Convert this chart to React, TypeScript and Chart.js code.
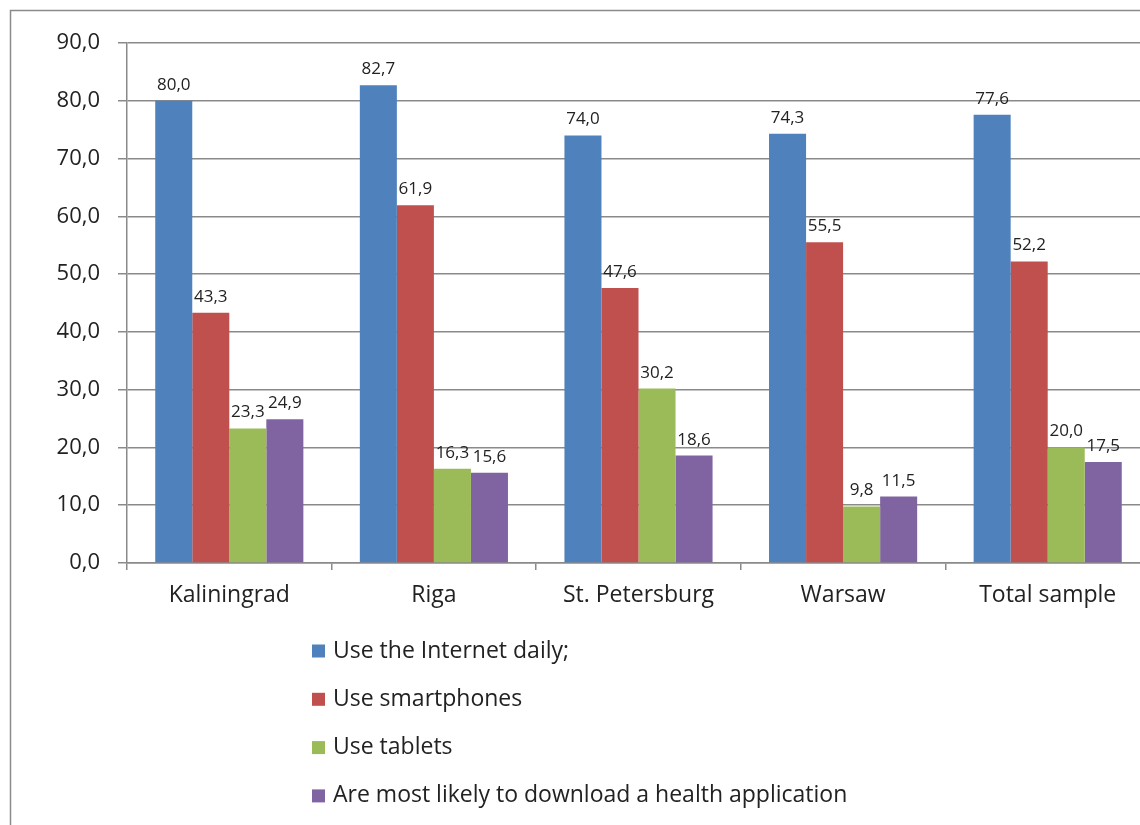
import React, { useEffect, useRef } from "react";
import { Chart, registerables } from "chart.js";

Chart.register(...registerables);

const categories = ["Kaliningrad", "Riga", "St. Petersburg", "Warsaw", "Total sample"];
const seriesNames = [
  "Use the Internet daily;",
  "Use smartphones",
  "Use tablets",
  "Are most likely to download a health application",
];
const internetDaily = [80.0, 82.7, 74.0, 74.3, 77.6];
const smartphones = [43.3, 61.9, 47.6, 55.5, 52.2];
const tablets = [23.3, 16.3, 30.2, 9.8, 20.0];
const healthApp = [24.9, 15.6, 18.6, 11.5, 17.5];
const seriesColors = ["#4f81bd", "#c0504d", "#9bbb59", "#8064a2"];
const yMin = 0;
const yMax = 90;
const yStep = 10;

const FONT = "'Open Sans', 'Noto Sans', sans-serif";

const fmt = (v: number) => v.toFixed(1).replace(".", ",");

export default function App() {
  const ref = useRef<HTMLCanvasElement>(null);
  useEffect(() => {
    if (!ref.current) return;
    const borderPlugin = {
      id: "frame",
      beforeDraw(chart: any) {
        const ctx = chart.ctx;
        ctx.save();
        ctx.strokeStyle = "#8a8a8a";
        ctx.lineWidth = 1.5;
        ctx.beginPath();
        ctx.moveTo(10.5, chart.height);
        ctx.lineTo(10.5, 10.5);
        ctx.lineTo(chart.width, 10.5);
        ctx.stroke();
        ctx.restore();
      },
    };
    const labelPlugin = {
      id: "valueLabels",
      afterDatasetsDraw(chart: any) {
        const ctx = chart.ctx;
        ctx.save();
        ctx.font = `17px ${FONT}`;
        ctx.fillStyle = "#222";
        ctx.textAlign = "center";
        ctx.textBaseline = "alphabetic";
        chart.data.datasets.forEach((ds: any, i: number) => {
          const meta = chart.getDatasetMeta(i);
          meta.data.forEach((bar: any, j: number) => {
            ctx.fillText(fmt(ds.data[j]), bar.x, bar.y - 11);
          });
        });
        ctx.restore();
      },
    };
    const legendPlugin = {
      id: "vertLegend",
      afterDraw(chart: any) {
        const ctx = chart.ctx;
        ctx.save();
        ctx.font = `23px ${FONT}`;
        ctx.textBaseline = "middle";
        ctx.textAlign = "left";
        const x0 = 312;
        const y0 = 651;
        const gap = 48.3;
        chart.data.datasets.forEach((ds: any, i: number) => {
          const y = y0 + i * gap;
          ctx.fillStyle = ds.backgroundColor;
          ctx.fillRect(x0, y - 6.5, 13, 13);
          ctx.fillStyle = "#222";
          ctx.fillText(ds.label, x0 + 21, y);
        });
        ctx.restore();
      },
    };
    const allSeries = [internetDaily, smartphones, tablets, healthApp];
    const chart = new Chart(ref.current, {
      type: "bar",
      data: {
        labels: categories,
        datasets: allSeries.map((d, i) => ({
          label: seriesNames[i],
          data: d,
          backgroundColor: seriesColors[i],
          borderWidth: 0,
          categoryPercentage: 0.724,
          barPercentage: 1,
        })),
      },
      options: {
        animation: false,
        responsive: false,
        devicePixelRatio: 1,
        layout: { padding: { top: 43, right: 10, left: 0, bottom: 0 } },
        plugins: { legend: { display: false }, tooltip: { enabled: false } },
        scales: {
          x: {
            grid: {
              offset: true,
              drawOnChartArea: false,
              drawTicks: true,
              tickLength: 7,
              color: "#8a8a8a",
              lineWidth: 1.5,
            },
            border: { display: true, color: "#8a8a8a", width: 1.5 },
            ticks: {
              color: "#222",
              font: { family: FONT, size: 23 },
              padding: 12,
              maxRotation: 0,
            },
            afterFit(scale: any) {
              scale.height = 262;
            },
          },
          y: {
            min: yMin,
            max: yMax,
            ticks: {
              stepSize: yStep,
              color: "#222",
              font: { family: FONT, size: 22 },
              padding: 18,
              callback: (v: any) => fmt(Number(v)),
            },
            grid: {
              color: "#8a8a8a",
              lineWidth: 1.5,
              tickLength: 9,
            },
            border: { display: true, color: "#8a8a8a", width: 1.5 },
            afterFit(scale: any) {
              scale.width = 127;
            },
          },
        },
      },
      plugins: [borderPlugin, labelPlugin, legendPlugin],
    } as any);
    return () => chart.destroy();
  }, []);
  return (
    <div
      style={{
        position: "fixed",
        left: 0,
        top: 0,
        width: 1140,
        height: 825,
        overflow: "hidden",
        background: "#fff",
      }}
    >
      <canvas ref={ref} width={1160} height={825} style={{ display: "block" }} />
    </div>
  );
}
